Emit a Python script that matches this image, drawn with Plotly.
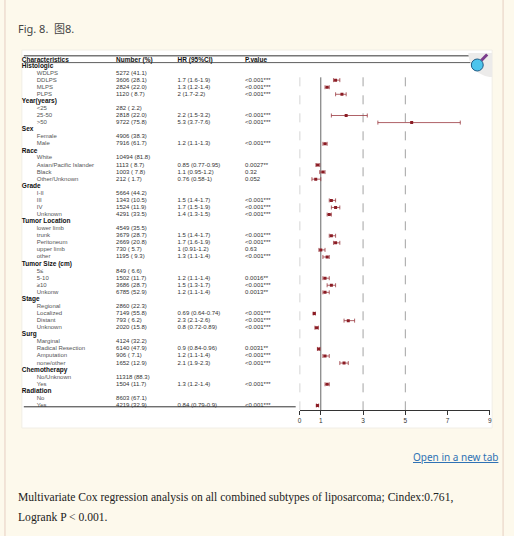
import plotly.graph_objects as go

# table rows, top to bottom
row_labels = ["Histologic", "WDLPS", "DDLPS", "MLPS", "PLPS",
              "Year(years)", "&lt;25", "25-50", "&gt;50",
              "Sex", "Female", "Male",
              "Race", "White", "Asian/Pacific Islander", "Black", "Other/Unknown",
              "Grade", "I-II", "III", "IV", "Unknown",
              "Tumor Location", "lower limb", "trunk", "Peritoneum", "upper limb", "other",
              "Tumor Size (cm)", "5≤", "5-10", "≥10", "Unkonw",
              "Stage", "Regional", "Localized", "Distant", "Unknown",
              "Surg", "Marginal", "Radical Resection", "Amputation", "none/other",
              "Chemotherapy", "No/Unknown", "Yes",
              "Radiation", "No", "Yes"]
numbers = ["", "5272 (41.1)", "3606 (28.1)", "2824 (22.0)", "1120 ( 8.7)",
           "", "282 ( 2.2)", "2818 (22.0)", "9722 (75.8)",
           "", "4906 (38.3)", "7916 (61.7)",
           "", "10494 (81.8)", "1113 ( 8.7)", "1003 ( 7.8)", "212 ( 1.7)",
           "", "5664 (44.2)", "1343 (10.5)", "1524 (11.9)", "4291 (33.5)",
           "", "4549 (35.5)", "3679 (28.7)", "2669 (20.8)", "730 ( 5.7)", "1195 ( 9.3)",
           "", "849 ( 6.6)", "1502 (11.7)", "3686 (28.7)", "6785 (52.9)",
           "", "2860 (22.3)", "7149 (55.8)", "793 ( 6.2)", "2020 (15.8)",
           "", "4124 (32.2)", "6140 (47.9)", "906 ( 7.1)", "1652 (12.9)",
           "", "11318 (88.3)", "1504 (11.7)",
           "", "8603 (67.1)", "4219 (32.9)"]
hr = [None, None, 1.7, 1.3, 2,
      None, None, 2.2, 5.3,
      None, None, 1.2,
      None, None, 0.85, 1.1, 0.76,
      None, None, 1.5, 1.7, 1.4,
      None, None, 1.5, 1.7, 1, 1.3,
      None, None, 1.2, 1.5, 1.2,
      None, None, 0.69, 2.3, 0.8,
      None, None, 0.9, 1.2, 2.1,
      None, None, 1.3,
      None, None, 0.84]
hr_low = [None, None, 1.6, 1.2, 1.7,
          None, None, 1.5, 3.7,
          None, None, 1.1,
          None, None, 0.77, 0.95, 0.58,
          None, None, 1.4, 1.5, 1.3,
          None, None, 1.4, 1.6, 0.91, 1.1,
          None, None, 1.1, 1.3, 1.1,
          None, None, 0.64, 2.1, 0.72,
          None, None, 0.84, 1.1, 1.9,
          None, None, 1.2,
          None, None, 0.79]
hr_high = [None, None, 1.9, 1.4, 2.2,
           None, None, 3.2, 7.6,
           None, None, 1.3,
           None, None, 0.95, 1.2, 1,
           None, None, 1.7, 1.9, 1.5,
           None, None, 1.7, 1.9, 1.2, 1.4,
           None, None, 1.4, 1.7, 1.4,
           None, None, 0.74, 2.6, 0.89,
           None, None, 0.96, 1.4, 2.3,
           None, None, 1.4,
           None, None, 0.9]
p_values = ["", "", "&lt;0.001***", "&lt;0.001***", "&lt;0.001***",
            "", "", "&lt;0.001***", "&lt;0.001***",
            "", "", "&lt;0.001***",
            "", "", "0.0027**", "0.32", "0.052",
            "", "", "&lt;0.001***", "&lt;0.001***", "&lt;0.001***",
            "", "", "&lt;0.001***", "&lt;0.001***", "0.63", "&lt;0.001***",
            "", "", "0.0016**", "&lt;0.001***", "0.0013**",
            "", "", "&lt;0.001***", "&lt;0.001***", "&lt;0.001***",
            "", "", "0.0031**", "&lt;0.001***", "&lt;0.001***",
            "", "", "&lt;0.001***",
            "", "", "&lt;0.001***"]
header = ["Characteristics", "Number (%)", "HR (95%CI)", "P.value"]
x_ticks = [0, 1, 3, 5, 7, 9]
dashed_refs = [0, 3, 5]

W, H = 514, 536
rows = list(range(1, len(row_labels) + 1))
is_group = [n == "" for n in numbers]

def px(x):
    return x / W

def py(y):
    return 1 - y / H

# row spacing in pixels, row 1 at 66px, axis line at 410px
step = 7.073
y_top = 1 - 66 / step
y_bot = y_top + 410 / step

fig = go.Figure()

# text columns (left edges in px, textposition adds ~2px)
col_x = [35, 115, 177, 245]
grp_x = 20
grp_rows = [r for r, g in zip(rows, is_group) if g]
grp_text = ["<b>" + l + "</b>" for l, g in zip(row_labels, is_group) if g]
sub_rows = [r for r, g in zip(rows, is_group) if not g]
sub_text = [l for l, g in zip(row_labels, is_group) if not g]

def text_trace(x, ys, txt, size, color):
    return go.Scatter(x=[x] * len(ys), y=ys, text=txt, mode="text",
                      textposition="middle right", xaxis="x2", yaxis="y",
                      textfont=dict(family="Liberation Sans, Arial", size=size, color=color),
                      hoverinfo="skip", showlegend=False, cliponaxis=False)

fig.add_trace(text_trace(grp_x, grp_rows, grp_text, 6.5, "#111"))
fig.add_trace(text_trace(col_x[0], sub_rows, sub_text, 6, "#555"))
fig.add_trace(text_trace(col_x[1], rows, numbers, 6, "#333"))
fig.add_trace(text_trace(col_x[2], rows, [
    "" if h is None else f"{h:g} ({l:g}-{u:g})" for h, l, u in zip(hr, hr_low, hr_high)], 6, "#333"))
fig.add_trace(text_trace(col_x[3], rows, p_values, 6, "#333"))
fig.add_trace(text_trace(grp_x, [0.2], ["<b>" + header[0] + "</b>"], 6.5, "#111"))
for cx, h in zip(col_x[1:], header[1:]):
    fig.add_trace(text_trace(cx, [0.2], ["<b>" + h + "</b>"], 6.5, "#111"))

# forest marks
fx = [h for h in hr if h is not None]
fy = [r for r, h in zip(rows, hr) if h is not None]
fplus = [u - h for h, u in zip(hr, hr_high) if h is not None]
fminus = [h - l for h, l in zip(hr, hr_low) if h is not None]
fig.add_trace(go.Scatter(
    x=fx, y=fy, mode="markers", xaxis="x", yaxis="y",
    marker=dict(symbol="square", size=3, color="#8b1c24"),
    error_x=dict(type="data", symmetric=False, array=fplus, arrayminus=fminus,
                 color="#9b3a40", thickness=0.8, width=2),
    hoverinfo="skip", showlegend=False))

# quarter disk behind the zoom icon (bezier arc, centre 494,53 r 24)
k = 0.5523 * 24
icon_bg = "M {},{} L {},{} C {},{} {},{} {},{} Z".format(
    px(494), py(53), px(470), py(53),
    px(470), py(53 + k), px(494 - k), py(77), px(494), py(77))

shapes = [
    # outer article box and white figure panel
    dict(type="rect", xref="paper", yref="paper", x0=px(3), x1=px(505), y0=py(545), y1=py(-5),
         line=dict(color="#e6cfc2", width=1), fillcolor="#fdf9ec", layer="below"),
    dict(type="rect", xref="paper", yref="paper", x0=px(20), x1=px(494), y0=py(428), y1=py(50),
         line=dict(color="#f1eee6", width=1), fillcolor="white", layer="below"),
    # table rules
    dict(type="line", xref="paper", yref="paper", x0=px(22), x1=px(488), y0=py(55.8), y1=py(55.8),
         line=dict(color="#777", width=1.6)),
    dict(type="line", xref="paper", yref="paper", x0=px(22), x1=px(488), y0=py(62.6), y1=py(62.6),
         line=dict(color="#333", width=0.8)),
    dict(type="line", xref="paper", yref="paper", x0=px(22), x1=px(296), y0=py(406.8), y1=py(406.8),
         line=dict(color="#333", width=1)),
    # zoom icon
    dict(type="path", xref="paper", yref="paper", path=icon_bg,
         line=dict(width=0), fillcolor="#ecebea"),
    dict(type="line", xref="paper", yref="paper", x0=px(483), x1=px(489), y0=py(60.5), y1=py(54.5),
         line=dict(color="#7a3c8c", width=3)),
    dict(type="circle", xref="paper", yref="paper", x0=px(473), x1=px(485), y0=py(71), y1=py(59),
         line=dict(color="#1f5b86", width=1), fillcolor="#4cc4ec"),
]
for v in dashed_refs:
    shapes.append(dict(type="line", xref="x", yref="y", x0=v, x1=v, y0=2.6, y1=y_bot,
                       line=dict(color="#8a8a8a", width=0.8, dash="dash"), layer="below"))
shapes.append(dict(type="line", xref="x", yref="y", x0=1, x1=1, y0=2.6, y1=y_bot,
                   line=dict(color="#666", width=1), layer="below"))

annotations = [
    dict(text="Fig. 8.&nbsp;&nbsp;图8.", x=px(14), y=py(28), xref="paper", yref="paper",
         xanchor="left", yanchor="middle", showarrow=False,
         font=dict(family="Noto Sans, Noto Sans CJK SC", size=11, color="#444")),
    dict(text="<u>Open in a new tab</u>", x=px(502), y=py(457), xref="paper", yref="paper",
         xanchor="right", yanchor="middle", showarrow=False,
         font=dict(family="Noto Sans", size=10, color="#2f72b4")),
    dict(text="Multivariate Cox regression analysis on all combined subtypes of liposarcoma; Cindex:0.761,",
         x=px(14), y=py(497), xref="paper", yref="paper", xanchor="left", yanchor="middle",
         showarrow=False, font=dict(family="Liberation Serif", size=11.6, color="#222")),
    dict(text="Logrank P &lt; 0.001.",
         x=px(14), y=py(517), xref="paper", yref="paper", xanchor="left", yanchor="middle",
         showarrow=False, font=dict(family="Liberation Serif", size=11.6, color="#222")),
]

fig.update_layout(
    width=W, height=H, margin=dict(l=0, r=0, t=0, b=0),
    paper_bgcolor="#fdf9ec", plot_bgcolor="rgba(0,0,0,0)",
    xaxis=dict(domain=[px(300), px(491.7)], range=[0, 9], anchor="y",
               tickvals=x_ticks, ticks="outside", ticklen=4, tickcolor="#333",
               showline=True, linecolor="#333", linewidth=1, showgrid=False, zeroline=False,
               tickfont=dict(family="Liberation Sans", size=6.5, color="#333")),
    xaxis2=dict(domain=[0, 1], range=[0, W], anchor="y", visible=False),
    yaxis=dict(domain=[py(410), 1], range=[y_bot, y_top], visible=False),
    shapes=shapes, annotations=annotations,
)

# drop the browser's default page margin so the figure sits at the window origin
fig.write_html("out.html", config={"displayModeBar": False},
               post_script="document.body.style.margin='0';")
